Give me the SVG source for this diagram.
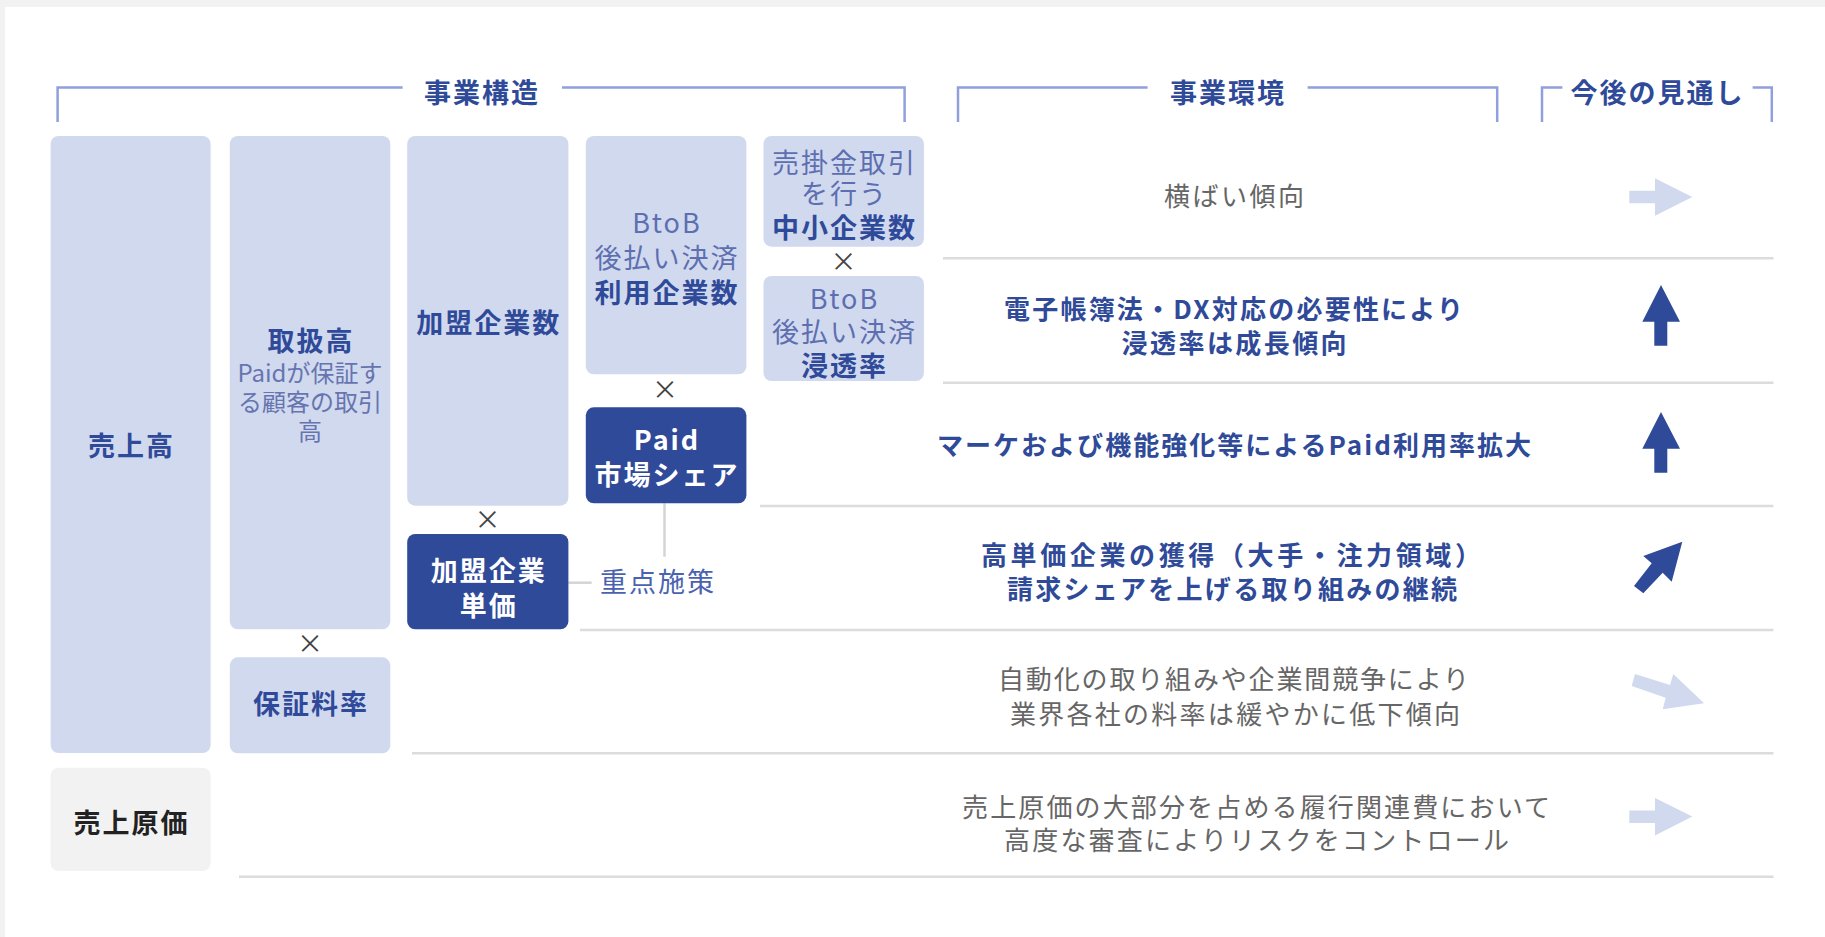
<svg xmlns="http://www.w3.org/2000/svg" width="1825" height="937" viewBox="0 0 1825 937">
<style>
text{font-family:"Noto Sans CJK JP","Noto Sans",sans-serif;}
.lbox{fill:#d1d9ef;}
.dbox{fill:#2f4a99;}
.gbox{fill:#f2f2f2;}
.lb{fill:#2f4a99;font-weight:700;font-size:27px;letter-spacing:2px;text-anchor:middle;}
.lr{fill:#5d6fb0;font-size:27px;letter-spacing:2px;text-anchor:middle;}
.sm{fill:#6675b0;font-size:24px;text-anchor:middle;}
.wb{fill:#ffffff;font-weight:700;font-size:27px;letter-spacing:2px;text-anchor:middle;}
.kb{fill:#222222;font-weight:700;font-size:27px;letter-spacing:2px;text-anchor:middle;}
.hd{fill:#2f4a99;font-weight:700;font-size:27px;letter-spacing:2px;text-anchor:middle;}
.rb{fill:#2f4a99;font-weight:700;font-size:26px;}
.rg{fill:#666666;font-size:26px;}
.mul{fill:#444444;font-size:26px;text-anchor:middle;}
.fk{fill:#4a63b0;font-size:27px;letter-spacing:2px;}
.brk{fill:none;stroke:#8fa0dc;stroke-width:2.5;}
.sep{fill:none;stroke:#dcdcdc;stroke-width:2.5;}
.con{fill:none;stroke:#d4d4d4;stroke-width:2.5;}
.aL{fill:#d1d9ef;}
.aD{fill:#2f4a99;}
</style>
<rect x="0" y="0" width="1825" height="937" fill="#f2f2f2"/>
<rect x="5" y="7" width="1820" height="930" fill="#ffffff"/>

<g id="headers">
  <path class="brk" d="M57.6,122 V87.5 H402.6 M562,87.5 H904.6 V122"/>
  <text class="hd" x="482" y="102.5">事業構造</text>
  <path class="brk" d="M958,122 V87.5 H1147.6 M1307.6,87.5 H1497.2 V122"/>
  <text class="hd" x="1228" y="102.5">事業環境</text>
  <path class="brk" d="M1542,122 V87.5 H1562.4 M1752.6,87.5 H1771.8 V122"/>
  <text class="hd" x="1657.5" y="102.5">今後の見通し</text>
</g>

<g id="separators">
  <path class="sep" d="M943,258.3 H1773.5 M943,382.7 H1773.5 M760,506 H1773.5 M580,630 H1773.5 M412,753.3 H1773.5 M239,876.7 H1773.5"/>
</g>

<g id="connectors">
  <path class="con" d="M664.5,503.3 V556.7"/>
  <path class="con" d="M568.4,582.7 H591.7"/>
</g>

<g id="node-uriagedaka">
  <rect class="lbox" x="50.6" y="136" width="160" height="617" rx="8"/>
  <text class="lb" x="131.6" y="456">売上高</text>
</g>

<g id="node-toriatsukai">
  <rect class="lbox" x="229.8" y="136" width="160.5" height="493.3" rx="8"/>
  <text class="lb" x="311" y="351">取扱高</text>
  <text class="sm" x="310" y="382">Paidが保証す</text>
  <text class="sm" x="310" y="411">る顧客の取引</text>
  <text class="sm" x="310" y="440">高</text>
</g>
<text class="mul" x="310" y="653">×</text>
<g id="node-hoshoryoritsu">
  <rect class="lbox" x="229.8" y="657.3" width="160.5" height="96" rx="8"/>
  <text class="lb" x="311" y="714">保証料率</text>
</g>

<g id="node-kameisu">
  <rect class="lbox" x="407.2" y="136" width="161.2" height="369.7" rx="8"/>
  <text class="lb" x="488.8" y="333">加盟企業数</text>
</g>
<text class="mul" x="487.5" y="529">×</text>
<g id="node-tanka">
  <rect class="dbox" x="407.2" y="534" width="161.2" height="95.3" rx="8"/>
  <text class="wb" x="488.8" y="581">加盟企業</text>
  <text class="wb" x="488.8" y="616">単価</text>
</g>
<g id="node-juten">
  <text class="fk" x="600" y="592">重点施策</text>
</g>

<g id="node-riyou">
  <rect class="lbox" x="585.8" y="136" width="160.6" height="238.3" rx="8"/>
  <text class="lr" x="667" y="233">BtoB</text>
  <text class="lr" x="667" y="267.5">後払い決済</text>
  <text class="lb" x="667" y="302.5">利用企業数</text>
</g>
<text class="mul" x="665" y="399">×</text>
<g id="node-share">
  <rect class="dbox" x="585.8" y="407.3" width="160.6" height="96" rx="8"/>
  <text class="wb" x="667" y="450">Paid</text>
  <text class="wb" x="667" y="485">市場シェア</text>
</g>

<g id="node-chusho">
  <rect class="lbox" x="763.5" y="136" width="160.4" height="110.7" rx="8"/>
  <text class="lr" x="844.5" y="172.5">売掛金取引</text>
  <text class="lr" x="844.5" y="204">を行う</text>
  <text class="lb" x="844.5" y="237.5">中小企業数</text>
</g>
<text class="mul" x="843.5" y="271">×</text>
<g id="node-shintou">
  <rect class="lbox" x="763.5" y="276" width="160.4" height="105" rx="8"/>
  <text class="lr" x="844.5" y="308.5">BtoB</text>
  <text class="lr" x="844.5" y="341.5">後払い決済</text>
  <text class="lb" x="844.5" y="375.5">浸透率</text>
</g>

<g id="node-genka">
  <rect class="gbox" x="50.6" y="767.7" width="160" height="103.3" rx="8"/>
  <text class="kb" x="131.6" y="833">売上原価</text>
</g>

<g id="row-1">
  <text class="rg" x="1164" y="206" textLength="140" lengthAdjust="spacing">横ばい傾向</text>
  <path class="aL" d="M1629.3,190.7 H1655 V178.3 L1692.3,196.9 L1655,215.7 V203.3 H1629.3 Z"/>
</g>
<g id="row-2">
  <text class="rb" x="1004" y="319" textLength="459" lengthAdjust="spacing">電子帳簿法・DX対応の必要性により</text>
  <text class="rb" x="1121.6" y="353" textLength="225" lengthAdjust="spacing">浸透率は成長傾向</text>
  <path class="aD" d="M1661,285 L1680,321.7 H1667.3 V345.7 H1654.3 V321.7 H1642.3 Z"/>
</g>
<g id="row-3">
  <text class="rb" x="937" y="455" textLength="594" lengthAdjust="spacing">マーケおよび機能強化等によるPaid利用率拡大</text>
  <path class="aD" d="M1661,412 L1680,448.7 H1667.3 V472.7 H1654.3 V448.7 H1642.3 Z"/>
</g>
<g id="row-4">
  <text class="rb" x="981" y="565" textLength="500" lengthAdjust="spacing">高単価企業の獲得（大手・注力領域）</text>
  <text class="rb" x="1007" y="599" textLength="450" lengthAdjust="spacing">請求シェアを上げる取り組みの継続</text>
  <path class="aD" d="M1682.3,541.7 L1671.7,581.7 L1662.7,572.7 L1643.3,593.3 L1634,586 L1651.7,563.3 L1643.3,556 Z"/>
</g>
<g id="row-5">
  <text class="rg" x="998" y="689" textLength="471" lengthAdjust="spacing">自動化の取り組みや企業間競争により</text>
  <text class="rg" x="1010" y="724" textLength="450" lengthAdjust="spacing">業界各社の料率は緩やかに低下傾向</text>
  <path class="aL" d="M1635,674 L1670,685 L1673.3,674 L1704,703.3 L1662.7,709.3 L1665.7,697.7 L1631.7,686 Z"/>
</g>
<g id="row-6">
  <text class="rg" x="962" y="817" textLength="588" lengthAdjust="spacing">売上原価の大部分を占める履行関連費において</text>
  <text class="rg" x="1004" y="850" textLength="505" lengthAdjust="spacing">高度な審査によりリスクをコントロール</text>
  <path class="aL" d="M1629.3,810.4 H1655 V798 L1692.3,816.6 L1655,835.4 V823 H1629.3 Z"/>
</g>
</svg>
